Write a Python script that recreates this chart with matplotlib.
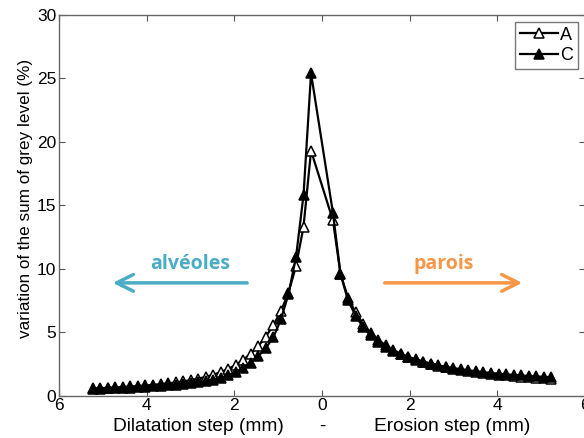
import numpy as np
import matplotlib
matplotlib.use("Agg")
import matplotlib.pyplot as plt

plt.rcParams['font.family'] = ['Liberation Sans', 'DejaVu Sans']

step = 0.1717
first = 0.25
n_pts = 30

# Dilatation side (left, plotted at negative x), ordered from centre outward
dil_A = [19.3, 13.3, 10.2, 8.1, 6.65, 5.55, 4.65, 3.9, 3.3, 2.82,
         2.42, 2.1, 1.85, 1.64, 1.47, 1.33, 1.21, 1.11, 1.03, 0.96,
         0.90, 0.84, 0.79, 0.75, 0.71, 0.67, 0.64, 0.61, 0.58, 0.56]
dil_C = [25.4, 15.8, 10.9, 8.0, 6.0, 4.6, 3.75, 3.1, 2.58, 2.18,
         1.86, 1.6, 1.4, 1.25, 1.13, 1.04, 0.96, 0.9, 0.85, 0.8,
         0.76, 0.72, 0.69, 0.66, 0.63, 0.61, 0.59, 0.57, 0.55, 0.53]
# Erosion side (right), ordered from centre outward
ero_A = [13.8, 9.6, 7.7, 6.55, 5.65, 4.95, 4.4, 3.95, 3.6, 3.3,
         3.05, 2.85, 2.67, 2.5, 2.36, 2.23, 2.12, 2.02, 1.93, 1.85,
         1.77, 1.70, 1.64, 1.58, 1.53, 1.48, 1.44, 1.40, 1.36, 1.33]
ero_C = [14.4, 9.6, 7.5, 6.3, 5.4, 4.75, 4.25, 3.85, 3.52, 3.25,
         3.02, 2.83, 2.66, 2.51, 2.38, 2.26, 2.16, 2.07, 1.99, 1.91,
         1.84, 1.78, 1.72, 1.67, 1.62, 1.58, 1.54, 1.50, 1.47, 1.44]

xticks = [-6, -4, -2, 0, 2, 4, 6]
xticklabels = ["6", "4", "2", "0", "2", "4", "6"]
yticks = [0, 5, 10, 15, 20, 25, 30]

dist = first + step * np.arange(n_pts)
x_all = np.concatenate([-dist[::-1], dist])
A_all = np.concatenate([np.array(dil_A)[::-1], ero_A])
C_all = np.concatenate([np.array(dil_C)[::-1], ero_C])

fig = plt.figure(figsize=(5.84, 4.38), dpi=100)
ax = fig.add_axes([59/584, 1-395.5/438, 526/584, 380.5/438])

ax.plot(x_all, A_all, '-', color='black', lw=1.6, marker='^', ms=7,
        mfc='white', mec='black', mew=1.1, label='A')
ax.plot(x_all, C_all, '-', color='black', lw=1.6, marker='^', ms=7,
        mfc='black', mec='black', mew=1.1, label='C')

ax.set_xlim(-6, 6)
ax.set_ylim(0, 30)
ax.set_xticks(xticks)
ax.set_xticklabels(xticklabels)
ax.set_yticks(yticks)
ax.tick_params(direction='in', top=True, right=True, labelsize=12.5,
               length=4, color='#555555', pad=2)
for s in ax.spines.values():
    s.set_color('#666666')
    s.set_linewidth(1.0)

ax.set_ylabel('variation of the sum of grey level (%)', fontsize=12.3)
ax.yaxis.set_label_coords(-0.049, 0.519)

ax.text(0.266, -0.058, 'Dilatation step (mm)', transform=ax.transAxes,
        ha='center', va='top', fontsize=13.8)
ax.text(0.50, -0.058, '-', transform=ax.transAxes,
        ha='center', va='top', fontsize=13.8)
ax.text(0.747, -0.058, 'Erosion step (mm)', transform=ax.transAxes,
        ha='center', va='top', fontsize=13.8)

leg = ax.legend(loc='upper right', fontsize=13, frameon=True, fancybox=False,
                edgecolor='#555555', borderpad=0.25, labelspacing=0.2,
                handlelength=2.1, handletextpad=0.15, borderaxespad=0.4)
leg.get_frame().set_linewidth(1.0)

blue = '#4BACC6'
orange = '#F79646'
ax.annotate('', xy=(0.097, 0.296), xytext=(0.363, 0.296),
            xycoords='axes fraction',
            arrowprops=dict(arrowstyle='->,head_length=1.2,head_width=0.6',
                            color=blue, lw=2.5))
ax.text(0.249, 0.332, 'alvéoles', transform=ax.transAxes, ha='center',
        va='baseline', fontsize=14, fontweight='bold', color=blue,
        family=['Open Sans', 'DejaVu Sans'])
ax.annotate('', xy=(0.886, 0.296), xytext=(0.614, 0.296),
            xycoords='axes fraction',
            arrowprops=dict(arrowstyle='->,head_length=1.2,head_width=0.6',
                            color=orange, lw=2.5))
ax.text(0.731, 0.332, 'parois', transform=ax.transAxes, ha='center',
        va='baseline', fontsize=14, fontweight='bold', color=orange,
        family=['Open Sans', 'DejaVu Sans'])

fig.savefig('out.png', dpi=100)
